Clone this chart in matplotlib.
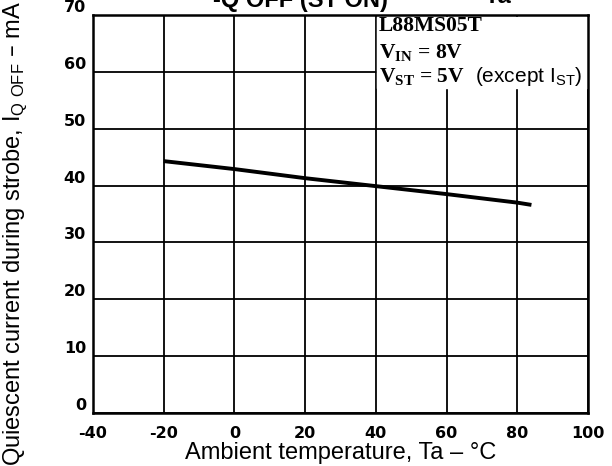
import numpy as np
import matplotlib
matplotlib.use('Agg')
import matplotlib.pyplot as plt

# quiescent current during strobe vs ambient temperature
Ta = [-20, 0, 20, 40, 60, 80, 84]
IqOff = [44.3, 42.9, 41.3, 39.9, 38.5, 37.0, 36.6]

xticks = [-40, -20, 0, 20, 40, 60, 80, 100]
xticklabels = ['-40', '-20', '0', '20', '40', '60', '80', '100']
yticks = [0, 10, 20, 30, 40, 50, 60, 70]

fig = plt.figure(figsize=(6.12, 4.66), dpi=100)
ax = fig.add_axes([93/612, 53/466, 495/612, 398/466])

ax.plot(Ta, IqOff, color='k', lw=2.8, solid_capstyle='butt', zorder=3)

ax.set_xlim(-40, 100)
ax.set_ylim(0, 70)
ax.set_xticks(xticks)
ax.set_yticks(yticks)
ax.grid(True, color='k', lw=1.3)
ax.tick_params(length=0)
for s in ax.spines.values():
    s.set_linewidth(1.8)
    s.set_zorder(5)

tickfont = dict(family=['Liberation Sans Narrow', 'DejaVu Sans'], weight='bold', size=11.5)
ax.set_xticklabels(xticklabels, **tickfont)
ax.set_yticklabels([str(v) for v in yticks], **tickfont)
for lab in ax.get_yticklabels():
    lab.set_verticalalignment('bottom')
ax.tick_params(axis='y', pad=5)
ax.tick_params(axis='x', pad=9)

ax.set_xlabel('Ambient temperature, Ta – °C', fontsize=17,
              family='Liberation Sans', labelpad=1)
fig.text(0.024, 0.5, 'Quiescent current during strobe, I$_{\\mathregular{Q\\ OFF}}$ – mA',
         rotation=90, ha='center', va='center', fontsize=17, family='Liberation Sans')

# white box with the conditions, covering the grid
ax.fill_between([40.3, 99.6], 57.2, 69.7, color='white', zorder=2)
serif = dict(family='Liberation Serif', weight='bold', fontsize=15.5, zorder=4)
ax.text(40.8, 68.0, 'L88MS05T', va='center', **serif)
ax.text(40.8, 63.3, 'V$_{\\mathregular{IN}}$ = 8V', va='center', **serif)
ax.text(40.8, 59.0, 'V$_{\\mathregular{ST}}$ = 5V', va='center', **serif)
ax.text(68.0, 59.1, '(except I$_{\\mathregular{ST}}$)', va='center',
        family='Liberation Sans', fontsize=15, zorder=4)

# title, cut off by the top edge
fig.text(213/612, 1 - 7/466, '-Q OFF (ST ON)', ha='left', va='baseline',
         fontsize=17, weight='bold', family='Liberation Sans')
fig.text(465/612, 1 - 3/466, '– Ta', ha='left', va='baseline',
         fontsize=17, weight='bold', family='Liberation Sans')

plt.savefig('out.png', dpi=100)
